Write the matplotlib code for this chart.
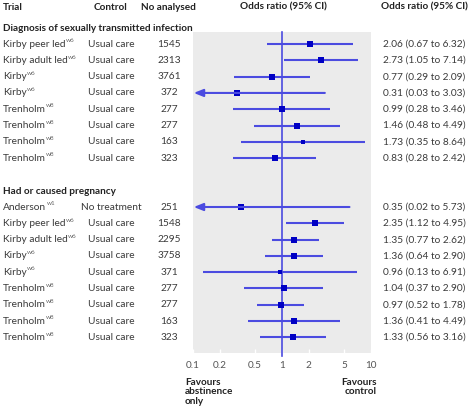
import matplotlib
matplotlib.use("Agg")
import matplotlib.pyplot as plt
from matplotlib.transforms import blended_transform_factory

plt.rcParams['font.family'] = ['Lato', 'DejaVu Sans']

# data
sti_trials = ['Kirby peer led', 'Kirby adult led', 'Kirby', 'Kirby',
              'Trenholm', 'Trenholm', 'Trenholm', 'Trenholm']
sti_refs = ['w6', 'w6', 'w6', 'w6', 'w8', 'w8', 'w8', 'w8']
sti_control = ['Usual care'] * 8
sti_n = [1545, 2313, 3761, 372, 277, 277, 163, 323]
sti_or = [2.06, 2.73, 0.77, 0.31, 0.99, 1.46, 1.73, 0.83]
sti_lo = [0.67, 1.05, 0.29, 0.03, 0.28, 0.48, 0.35, 0.28]
sti_hi = [6.32, 7.14, 2.09, 3.03, 3.46, 4.49, 8.64, 2.42]

preg_trials = ['Anderson', 'Kirby peer led', 'Kirby adult led', 'Kirby', 'Kirby',
               'Trenholm', 'Trenholm', 'Trenholm', 'Trenholm']
preg_refs = ['w1', 'w6', 'w6', 'w6', 'w6', 'w8', 'w8', 'w8', 'w8']
preg_control = ['No treatment'] + ['Usual care'] * 8
preg_n = [251, 1548, 2295, 3758, 371, 277, 277, 163, 323]
preg_or = [0.35, 2.35, 1.35, 1.36, 0.96, 1.04, 0.97, 1.36, 1.33]
preg_lo = [0.02, 1.12, 0.77, 0.64, 0.13, 0.37, 0.52, 0.41, 0.56]
preg_hi = [5.73, 4.95, 2.62, 2.90, 6.91, 2.90, 1.78, 4.49, 3.16]

ticks = [0.1, 0.2, 0.5, 1, 2, 5, 10]
tick_labels = ['0.1', '0.2', '0.5', '1', '2', '5', '10']

# box side in pixels (study weight)
sti_box = [4.7, 5.3, 5.3, 5.3, 5.7, 5.0, 4.0, 5.3]
preg_box = [5.0, 5.7, 5.7, 5.3, 4.0, 4.7, 4.7, 5.7, 5.7]

W, H = 472, 413
fig = plt.figure(figsize=(W / 100, H / 100), dpi=100)
ax = fig.add_axes([193 / W, 1 - 353 / H, 178 / W, 321 / H])
ax.set_facecolor('#ebebeb')
ax.set_xscale('log')
ax.set_xlim(0.1, 10)
ax.set_ylim(19.96, 0.26)
for s in ax.spines.values():
    s.set_visible(False)
ax.set_yticks([])
ax.set_xticks(ticks)
ax.set_xticklabels(tick_labels)
ax.minorticks_off()
ax.tick_params(axis='x', direction='in', length=3, color='white', width=1,
               labelsize=7.2, labelcolor='#555555', pad=6)

line_c = '#4b4be0'
box_c = '#0000c4'
txt_c = '#3a3a3a'
ax.axvline(1, color=line_c, lw=1.2, ymin=-0.01, ymax=1, clip_on=False)

tr = blended_transform_factory(fig.transFigure, ax.transData)
fs = 7.3
labels = []


def fx(px):
    return px / W


def draw_rows(start, trials, refs, control, n, oratio, lo, hi, box):
    for i in range(len(trials)):
        y = start + i
        if lo[i] < 0.1:
            ax.annotate('', xy=(0.102, y), xytext=(hi[i], y),
                        arrowprops=dict(arrowstyle='-|>,head_length=0.55,head_width=0.22',
                                        color=line_c, lw=1.5, shrinkA=0, shrinkB=0))
        else:
            ax.plot([lo[i], hi[i]], [y, y], color=line_c, lw=1.5, solid_capstyle='butt')
        ax.plot([oratio[i]], [y], marker='s', color=box_c, ms=box[i] * 0.85,
                mew=0, snap=False)
        t = fig.text(fx(3), y, trials[i], transform=tr, fontsize=fs, color=txt_c, va='center')
        fig.text(fx(111), y, control[i], transform=tr, fontsize=fs, color=txt_c,
                 va='center', ha='center')
        fig.text(fx(169), y, str(n[i]), transform=tr, fontsize=fs, color=txt_c,
                 va='center', ha='center')
        fig.text(fx(383), y, '%.2f (%.2f to %.2f)' % (oratio[i], lo[i], hi[i]),
                 transform=tr, fontsize=fs, color=txt_c, va='center')
        labels.append((t, refs[i], y))


draw_rows(1, sti_trials, sti_refs, sti_control, sti_n, sti_or, sti_lo, sti_hi, sti_box)
draw_rows(11, preg_trials, preg_refs, preg_control, preg_n, preg_or, preg_lo, preg_hi, preg_box)

# superscript reference tags after trial names
fig.canvas.draw()
r = fig.canvas.get_renderer()
for t, ref, y in labels:
    bb = t.get_window_extent(r)
    fig.text(bb.x1 / W + 0.5 / W, y - 0.2, ref, transform=tr, fontsize=4.6,
             color='#666666', va='center')

hb = dict(fontsize=7.2, fontweight='bold', color='#222222', va='center')
fig.text(fx(3), -1.27, 'Trial', transform=tr, **hb)
fig.text(fx(111), -1.27, 'Control', transform=tr, ha='center', **hb)
fig.text(fx(168), -1.27, 'No analysed', transform=tr, ha='center', **hb)
fig.text(fx(283), -1.27, 'Odds ratio (95% CI)', transform=tr, ha='center', **hb)
fig.text(fx(381), -1.27, 'Odds ratio (95% CI)', transform=tr, **hb)
fig.text(fx(3), 0.02, 'Diagnosis of sexually transmitted infection', transform=tr, **hb)
fig.text(fx(3), 10.05, 'Had or caused pregnancy', transform=tr, **hb)

fig.text(fx(185), 1 - 378 / H, 'Favours\nabstinence\nonly', fontsize=7.2, fontweight='bold',
         color='#222222', va='top', linespacing=1.05)
fig.text(fx(377), 1 - 378 / H, 'Favours\ncontrol', fontsize=7.2, fontweight='bold',
         color='#222222', va='top', ha='right', linespacing=1.05, multialignment='right')

fig.savefig('out.png', dpi=100, facecolor='white')
